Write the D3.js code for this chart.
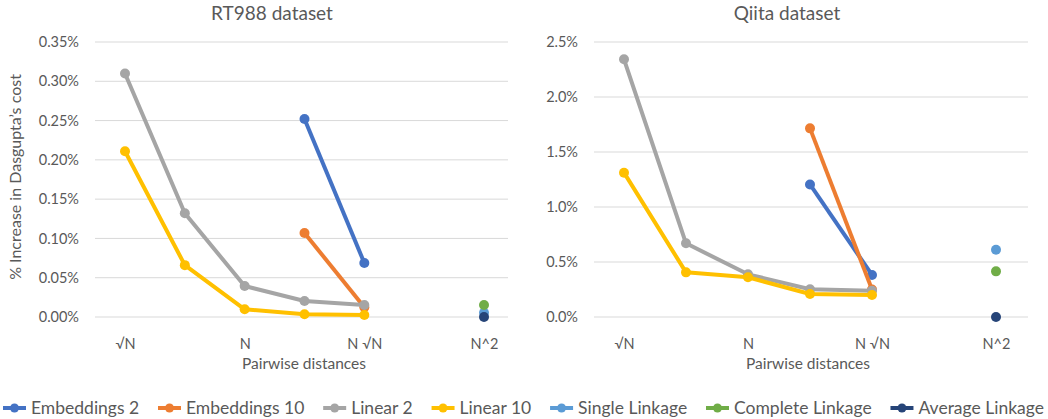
<!DOCTYPE html>
<html><head><meta charset="utf-8">
<script src="https://cdn.jsdelivr.net/npm/d3@7"></script>
<style>body{margin:0;background:#fff}svg{display:block}text{font-family:Lato,"Open Sans",sans-serif;fill:#595959}</style>
</head><body><svg id="c" width="1048" height="419"></svg>
<script>
const categories = ["c0","c1","c2","c3","c4","c5","c6"];
const tickLabels = ["√N","","N","","N √N","","N^2"];
const seriesNames = ["Embeddings 2","Embeddings 10","Linear 2","Linear 10","Single Linkage","Complete Linkage","Average Linkage"];
const colors = ["#4472C4","#ED7D31","#A5A5A5","#FFC000","#5B9BD5","#70AD47","#264478"];

// RT988 dataset (% increase)
const rtEmb2  = [null,null,null,0.252,0.0687,null,null];
const rtEmb10 = [null,null,null,0.107,0.0123,null,null];
const rtLin2  = [0.310,0.132,0.0394,0.0204,0.0153,null,null];
const rtLin10 = [0.211,0.066,0.0098,0.0034,0.0025,null,null];
const rtSingle   = [null,null,null,null,null,null,0.0055];
const rtComplete = [null,null,null,null,null,null,0.0153];
const rtAverage  = [null,null,null,null,null,null,0.0];
const rtTicks = [0,0.05,0.10,0.15,0.20,0.25,0.30,0.35];

// Qiita dataset (% increase)
const qEmb2  = [null,null,null,1.205,0.382,null,null];
const qEmb10 = [null,null,null,1.715,0.25,null,null];
const qLin2  = [2.343,0.670,0.388,0.252,0.239,null,null];
const qLin10 = [1.312,0.406,0.361,0.209,0.200,null,null];
const qSingle   = [null,null,null,null,null,null,0.612];
const qComplete = [null,null,null,null,null,null,0.415];
const qAverage  = [null,null,null,null,null,null,0.0];
const qTicks = [0,0.5,1.0,1.5,2.0,2.5];

const svg = d3.select("#c");

function panel(o){
  const g = svg.append("g");
  const x = d3.scalePoint().domain(categories).range([o.x0,o.x1]);
  const y = d3.scaleLinear().domain([0,o.max]).range([o.yb,o.yt]);
  g.append("g").selectAll("line").data(o.ticks).join("line")
    .attr("x1",o.gx0).attr("x2",o.gx1)
    .attr("y1",d=>y(d)).attr("y2",d=>y(d))
    .attr("stroke","#D9D9D9").attr("stroke-width",1);
  const ya = d3.axisLeft(y).tickValues(o.ticks).tickSize(0).tickPadding(0).tickFormat(o.fmt);
  const yg = g.append("g").attr("transform",`translate(${o.yl},0)`).call(ya);
  yg.select(".domain").remove();
  yg.selectAll("text").attr("font-size",14.5).attr("fill","#595959").attr("font-family","Lato");
  const xa = d3.axisBottom(x).tickSize(0).tickPadding(0).tickFormat((d,i)=>tickLabels[i]);
  const xg = g.append("g").attr("transform",`translate(0,${o.xly})`).call(xa);
  xg.select(".domain").remove();
  xg.selectAll("text").attr("font-size",14.5).attr("fill","#595959").attr("font-family","Lato");
  g.append("text").attr("x",o.tx).attr("y",20).attr("text-anchor","middle").attr("font-size",19).text(o.title);
  g.append("text").attr("x",o.xtx).attr("y",368.5).attr("text-anchor","middle").attr("font-size",15.5).text("Pairwise distances");
  const line = d3.line().defined(d=>d.v!=null).x(d=>x(d.c)).y(d=>y(d.v));
  o.series.forEach((s,i)=>{
    const pts = categories.map((c,k)=>({c,v:s[k]}));
    g.append("path").datum(pts).attr("d",line).attr("fill","none")
      .attr("stroke",colors[i]).attr("stroke-width",4).attr("stroke-linejoin","round");
    g.append("g").selectAll("circle").data(pts.filter(d=>d.v!=null)).join("circle")
      .attr("cx",d=>x(d.c)).attr("cy",d=>y(d.v)).attr("r",5).attr("fill",colors[i]);
  });
}

panel({x0:125,x1:484,gx0:95,gx1:508,yb:317,yt:42,max:0.35,ticks:rtTicks,
  fmt:d=>d3.format(".2f")(d)+"%",yl:79,xly:339,tx:272,xtx:304,title:"RT988 dataset",
  series:[rtEmb2,rtEmb10,rtLin2,rtLin10,rtSingle,rtComplete,rtAverage]});
panel({x0:624,x1:996,gx0:594,gx1:1028,yb:317,yt:42,max:2.5,ticks:qTicks,
  fmt:d=>d3.format(".1f")(d)+"%",yl:578,xly:339,tx:787,xtx:808,title:"Qiita dataset",
  series:[qEmb2,qEmb10,qLin2,qLin10,qSingle,qComplete,qAverage]});

svg.append("text").attr("transform","translate(21,177) rotate(-90)")
  .attr("text-anchor","middle").attr("font-size",16).text("% Increase in Dasgupta’s cost");

// legend
const lg = svg.append("g");
const items = seriesNames.map((n,i)=>{
  const it = lg.append("g");
  it.append("line").attr("x1",0).attr("x2",23).attr("y1",0).attr("y2",0)
    .attr("stroke",colors[i]).attr("stroke-width",4);
  it.append("circle").attr("cx",11.5).attr("cy",0).attr("r",4.5).attr("fill",colors[i]);
  const t = it.append("text").attr("x",28).attr("y",6).attr("font-size",17.5).text(n);
  return {it, w: 28 + t.node().getComputedTextLength()};
});
const startX = 3, endX = 1044;
const totalW = d3.sum(items, d=>d.w);
const gap = (endX - startX - totalW) / (items.length - 1);
let lx = startX;
items.forEach(d=>{ d.it.attr("transform",`translate(${lx},408)`); lx += d.w + gap; });
</script></body></html>
